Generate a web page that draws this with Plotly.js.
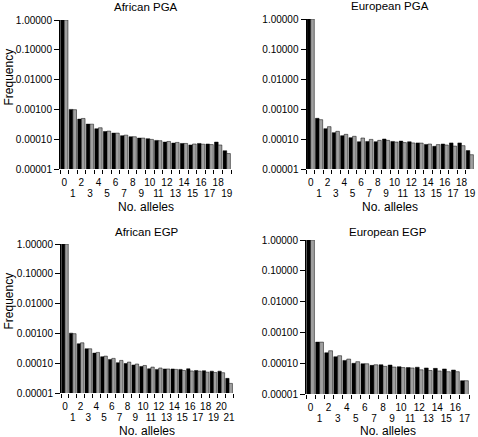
<!DOCTYPE html>
<html><head><meta charset="utf-8">
<script src="https://cdn.plot.ly/plotly-3.0.1.min.js"></script>
<style>html,body{margin:0;padding:0;background:#fff}</style>
</head><body><div id="chart" style="width:478px;height:437px"></div>
<script>
// Number of alleles (categories)
const allelesPGA = ['0','1','2','3','4','5','6','7','8','9','10','11','12','13','14','15','16','17','18','19'];
const allelesAfrEGP = ['0','1','2','3','4','5','6','7','8','9','10','11','12','13','14','15','16','17','18','19','20','21'];
const allelesEurEGP = ['0','1','2','3','4','5','6','7','8','9','10','11','12','13','14','15','16','17'];

// Frequencies (black series = A, grey series = B)
const africanPGA_A = [1.0, 0.00100, 0.000472, 0.000321, 0.000224, 0.000182, 0.000160, 0.000131, 0.000121, 0.000109, 0.000104, 0.000091, 0.000080, 0.000074, 0.000072, 0.000064, 0.000072, 0.000069, 0.000080, 0.000041];
const africanPGA_B = [1.0, 0.00098, 0.000497, 0.000320, 0.000242, 0.000187, 0.000160, 0.000137, 0.000121, 0.000109, 0.0000985, 0.000089, 0.000084, 0.000078, 0.000072, 0.000069, 0.000068, 0.000066, 0.000064, 0.000033];

const europeanPGA_A = [1.0, 0.000489, 0.000221, 0.000163, 0.000129, 0.000111, 0.000081, 0.000083, 0.000081, 0.000100, 0.000083, 0.000085, 0.000081, 0.000074, 0.000066, 0.000057, 0.000068, 0.000074, 0.000074, 0.000041];
const europeanPGA_B = [1.0, 0.000441, 0.000258, 0.000180, 0.000143, 0.000123, 0.000108, 0.000097, 0.000090, 0.000090, 0.000079, 0.000076, 0.000074, 0.000073, 0.000068, 0.000065, 0.000063, 0.000058, 0.000060, 0.000030];

const africanEGP_A = [1.0, 0.00102, 0.000449, 0.000305, 0.000218, 0.000165, 0.000134, 0.000104, 0.000098, 0.000087, 0.000078, 0.000065, 0.000062, 0.000064, 0.000064, 0.000062, 0.000065, 0.000057, 0.000056, 0.000054, 0.000054, 0.000031];
const africanEGP_B = [1.0, 0.00098, 0.000484, 0.000305, 0.000230, 0.000173, 0.000145, 0.000124, 0.000109, 0.000094, 0.000084, 0.000074, 0.000069, 0.000064, 0.000062, 0.000057, 0.000055, 0.000054, 0.000050, 0.000049, 0.000048, 0.000021];

const europeanEGP_A = [1.0, 0.000484, 0.000218, 0.000162, 0.000123, 0.000099, 0.000096, 0.000085, 0.000089, 0.000087, 0.000077, 0.000072, 0.000074, 0.000070, 0.000068, 0.000065, 0.000060, 0.000027];
const europeanEGP_B = [1.0, 0.000484, 0.000254, 0.000175, 0.000136, 0.000112, 0.000096, 0.000089, 0.000079, 0.000075, 0.000072, 0.000070, 0.000061, 0.000058, 0.000056, 0.000053, 0.000053, 0.000027];

const panelTitles = ['African PGA', 'European PGA', 'African EGP', 'European EGP'];
const yTickVals = [1, 0.1, 0.01, 0.001, 0.0001, 0.00001];
const yTickText = ['1.00000', '0.10000', '0.01000', '0.00100', '0.00010', '0.00001'];
const xTitle = 'No. alleles';
const yTitle = 'Frequency';

const W = 478, H = 437;
const FONT = 'Liberation Sans, Arial, Helvetica, sans-serif';
const TICKFONT = {family: FONT, size: 10, color: '#000'};
const ROW_GAP = 4.5;

const panels = [
  {cats: allelesPGA,    a: africanPGA_A,  b: africanPGA_B,  px: [60, 231],    py: [20, 169],  ty: 7,   xty: 207},
  {cats: allelesPGA,    a: europeanPGA_A, b: europeanPGA_B, px: [306.5, 474], py: [19, 169],  ty: 6,   xty: 207},
  {cats: allelesAfrEGP, a: africanEGP_A,  b: africanEGP_B,  px: [61, 233],    py: [244, 393], ty: 232, xty: 431},
  {cats: allelesEurEGP, a: europeanEGP_A, b: europeanEGP_B, px: [306, 469],   py: [240, 394], ty: 232, xty: 431}
];

const traces = [];
const layout = {
  width: W, height: H,
  margin: {l: 0, r: 0, t: 0, b: 0},
  paper_bgcolor: '#fff', plot_bgcolor: '#fff',
  showlegend: false,
  barmode: 'group', bargap: 0.14, bargroupgap: 0,
  font: {family: FONT, size: 10, color: '#000'},
  annotations: []
};

panels.forEach((p, i) => {
  const n = i === 0 ? '' : String(i + 1);
  const xa = 'x' + n, ya = 'y' + n;
  traces.push({type: 'bar', x: p.cats, y: p.a, xaxis: xa, yaxis: ya,
    marker: {color: '#000', line: {color: '#000', width: 0.5}}, hoverinfo: 'none'});
  traces.push({type: 'bar', x: p.cats, y: p.b, xaxis: xa, yaxis: ya,
    marker: {color: '#a0a0a0', line: {color: '#000', width: 0.5}}, hoverinfo: 'none'});
  // main axis: ticks at category boundaries, even labels on first row
  const evenText = p.cats.map((c, k) => (k % 2 === 0 ? c : ''));
  layout['xaxis' + n] = {
    domain: [p.px[0] / W, p.px[1] / W], anchor: ya,
    type: 'category', tickmode: 'array', tickvals: p.cats, ticktext: evenText,
    tickson: 'boundaries', ticks: 'outside', ticklen: 4, tickwidth: 1, tickcolor: '#000',
    ticklabelstandoff: 6,
    showline: false, showgrid: false, zeroline: false, tickangle: 0,
    tickfont: TICKFONT, automargin: false, fixedrange: true
  };
  // overlay axis: odd labels on a second row, positioned just below the first
  const oddIdx = p.cats.map((c, k) => k).filter(k => k % 2 === 1);
  const on = String(i + 5);
  traces.push({type: 'scatter', mode: 'none', x: oddIdx, y: oddIdx.map(() => null),
    xaxis: 'x' + on, yaxis: ya, hoverinfo: 'none', showlegend: false});
  layout['xaxis' + on] = {
    overlaying: xa, anchor: 'free', position: 1 - (p.py[1] + ROW_GAP) / H,
    type: 'linear', visible: true,
    range: [-0.5, p.cats.length - 0.5],
    tickmode: 'array', tickvals: oddIdx, ticktext: oddIdx.map(k => p.cats[k]),
    ticks: 'outside', ticklen: 4, tickwidth: 1, tickcolor: 'rgba(0,0,0,0)',
    ticklabelstandoff: 6,
    showline: false, showgrid: false, zeroline: false, tickangle: 0,
    tickfont: TICKFONT, automargin: false, fixedrange: true
  };
  layout['yaxis' + n] = {
    domain: [1 - p.py[1] / H, 1 - p.py[0] / H], anchor: xa,
    type: 'log', range: [-5, 0], tickmode: 'array', tickvals: yTickVals, ticktext: yTickText,
    ticks: 'outside', ticklen: 5, tickwidth: 1, tickcolor: '#000',
    showline: true, linecolor: '#000', linewidth: 1, showgrid: false, zeroline: false,
    tickfont: TICKFONT, automargin: false, fixedrange: true
  };
  const cx = (p.px[0] + p.px[1]) / 2;
  layout.annotations.push({text: panelTitles[i], xref: 'paper', yref: 'paper',
    x: cx / W, y: 1 - p.ty / H, xanchor: 'center', yanchor: 'middle',
    showarrow: false, font: {family: FONT, size: 11.5, color: '#000'}});
  layout.annotations.push({text: xTitle, xref: 'paper', yref: 'paper',
    x: cx / W, y: 1 - p.xty / H, xanchor: 'center', yanchor: 'middle',
    showarrow: false, font: {family: FONT, size: 12, color: '#000'}});
  if (i % 2 === 0) {
    layout.annotations.push({text: yTitle, xref: 'paper', yref: 'paper',
      x: 8 / W, y: 1 - ((p.py[0] + p.py[1]) / 2 - 17) / H, xanchor: 'center', yanchor: 'middle',
      textangle: -90, showarrow: false, font: {family: FONT, size: 12, color: '#000'}});
  }
});

Plotly.newPlot('chart', traces, layout, {staticPlot: true, displayModeBar: false});
</script>
</body></html>
